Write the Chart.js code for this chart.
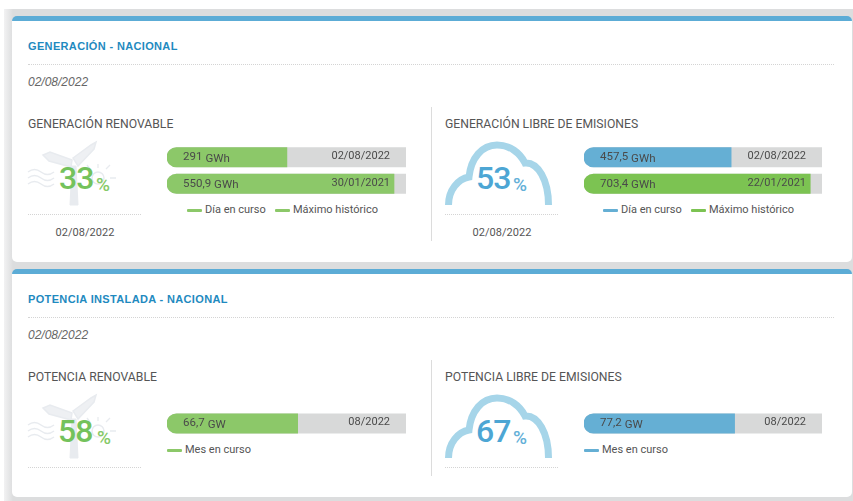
<!DOCTYPE html>
<html lang="es">
<head>
<meta charset="utf-8">
<title>Generación y potencia - Nacional</title>
<script src="https://cdn.jsdelivr.net/npm/chart.js@4"></script>
<style>
    html, body { margin: 0; padding: 0; background: #fff; }
    #page { position: relative; width: 853px; height: 501px; overflow: hidden; font-family: Roboto, sans-serif; filter: blur(0.45px); }
    #backdrop { position: absolute; left: 4px; top: 9px; width: 849px; height: 492px; background: linear-gradient(90deg, #f2f2f3 0, #dcddde 9px); }
    .card { position: absolute; left: 12px; width: 840px; background: #fff; border-top: 5px solid #5cacd6; border-radius: 5px; box-sizing: border-box; }
    .abs { position: absolute; white-space: nowrap; }
    .heading { font: bold 11px "Liberation Sans", sans-serif; color: #1f8abf; letter-spacing: 0.35px; }
    .today { font: italic 12px "Liberation Sans", sans-serif; color: #666; }
    .title { font-size: 12.2px; color: #555; }
    .dots { position: absolute; border-top: 1px dotted #d4d4d4; height: 0; }
    .divider { position: absolute; width: 1px; background: #dcdcdc; }
    .big { font-size: 32px; font-weight: 500; line-height: 32px; letter-spacing: -1px; }
    .pct { font-size: 19px; font-weight: 500; line-height: 20px; }
    .date { font-size: 11px; color: #555; letter-spacing: 0.05px; transform: translateX(-50%); }
    .legend { font-size: 11px; color: #555; }
    .legend i { position: absolute; width: 15px; height: 3px; border-radius: 1px; top: 6px; }
    canvas { position: absolute; }
    svg { position: absolute; left: 0; top: 0; }
</style>
</head>
<body>
<div id="page">
    <div id="backdrop"></div>
    <div class="card" style="top:16px;height:246px"></div>
    <div class="card" style="top:269px;height:228px"></div>

    <svg width="853" height="501" fill="none">
        <g id="mill" stroke="#e8ebef">
            <path d="M72 166 L70 205 H78 L76 166 Z" fill="#e8ebef" stroke-width="1"/>
            <path d="M73 158 L91 145 L96 142 L94 149 L78 166 Z" fill="#eef0f3" stroke-width="1.5"/>
            <path d="M72 160 L50 152 L43 155 L49 161 L71 167 Z" fill="#eef0f3" stroke-width="1.5"/>
            <path d="M28 172 q6.5 -5 13 0 t13 0 M28 178 q6.5 -5 13 0 t13 0 M28 184 q6.5 -5 13 0 t13 0" stroke-width="1.5"/>
            <circle cx="98" cy="178" r="6" stroke-width="1.5"/>
            <path d="M98 164 V168 M110 178 H116 M106 169 L110 165 M90 169 L87 165" stroke-width="1.3"/>
        </g>
        <use href="#mill" y="253"/>
        <path id="cloud" d="M448.5 205 C448.5 190 458 179 469 177 C471 158 482 145 497 145 C510 145 520 153 525 163 C538 162 548.5 180 548.5 205" stroke="#a6d5e9" stroke-width="7"/>
        <use href="#cloud" y="253"/>
    </svg>

    <div class="abs heading" style="left:28px;top:40px">GENERACIÓN - NACIONAL</div>
    <div class="dots" style="left:28px;top:64px;width:806px"></div>
    <div class="abs today" style="left:28px;top:75px">02/08/2022</div>
    <div class="divider" style="left:431px;top:107px;height:134px"></div>

    <div class="abs title" style="left:28px;top:117px">GENERACIÓN RENOVABLE</div>
    <div class="abs big" style="left:59px;top:162px;color:#74c25c">33</div>
    <div class="abs pct" style="left:96px;top:175px;color:#86c968">%</div>
    <div class="dots" style="left:28px;top:214px;width:113px"></div>
    <div class="abs date" style="left:85px;top:226px">02/08/2022</div>

    <div class="abs title" style="left:445px;top:117px">GENERACIÓN LIBRE DE EMISIONES</div>
    <div class="abs big" style="left:476px;top:162px;color:#4da6d4">53</div>
    <div class="abs pct" style="left:513px;top:175px;color:#64b0d8">%</div>
    <div class="dots" style="left:445px;top:214px;width:113px"></div>
    <div class="abs date" style="left:502px;top:226px">02/08/2022</div>

    <div class="abs heading" style="left:28px;top:293px">POTENCIA INSTALADA - NACIONAL</div>
    <div class="dots" style="left:28px;top:317px;width:806px"></div>
    <div class="abs today" style="left:28px;top:328px">02/08/2022</div>
    <div class="divider" style="left:431px;top:360px;height:116px"></div>

    <div class="abs title" style="left:28px;top:370px">POTENCIA RENOVABLE</div>
    <div class="abs big" style="left:58px;top:415px;color:#74c25c">58</div>
    <div class="abs pct" style="left:97px;top:428px;color:#86c968">%</div>
    <div class="dots" style="left:28px;top:467px;width:113px"></div>

    <div class="abs title" style="left:445px;top:370px">POTENCIA LIBRE DE EMISIONES</div>
    <div class="abs big" style="left:476px;top:415px;color:#4da6d4">67</div>
    <div class="abs pct" style="left:513px;top:428px;color:#64b0d8">%</div>
    <div class="dots" style="left:445px;top:467px;width:113px"></div>

    <canvas id="genRenovable" width="239" height="53" style="left:167px;top:144px"></canvas>
    <canvas id="genLibre" width="238" height="53" style="left:584px;top:144px"></canvas>
    <canvas id="potRenovable" width="239" height="27" style="left:167px;top:410px"></canvas>
    <canvas id="potLibre" width="238" height="27" style="left:584px;top:410px"></canvas>

    <div id="legends"></div>
</div>

<script>
// Values
const genLabels = ['Día en curso', 'Máximo histórico'];
const potLabels = ['Mes en curso'];

const genRenovableValues = [291, 550.9];
const genRenovableDates = ['02/08/2022', '30/01/2021'];
const genRenovableColors = ['#8cc869', '#8cc869'];

const genLibreValues = [457.5, 703.4];
const genLibreDates = ['02/08/2022', '22/01/2021'];
const genLibreColors = ['#65afd4', '#7cc352'];

const potRenovableValues = [66.7];
const potRenovableDates = ['08/2022'];
const potRenovableColors = ['#8cc869'];

const potLibreValues = [77.2];
const potLibreDates = ['08/2022'];
const potLibreColors = ['#65afd4'];

// Axis limits worked out from how far the bars fill the grey track
const GEN_RENOVABLE_MAX = 580;
const GEN_LIBRE_MAX = 740;
const POT_MAX = 122;

const TRACK_COLOR = '#d8d9d9';
const TEXT_COLOR = '#4a4a4a';

// Writes value + unit on the left of each bar and the date on the right
const barText = {
    id: 'barText',
    afterDatasetsDraw(chart, args, opts) {
        const ctx = chart.ctx;
        const bars = chart.getDatasetMeta(0).data;
        ctx.save();
        ctx.fillStyle = TEXT_COLOR;
        ctx.textBaseline = 'middle';
        bars.forEach((bar, i) => {
            const text = String(opts.values[i]).replace('.', ',');
            ctx.font = '11.5px Roboto, sans-serif';
            ctx.textAlign = 'left';
            const left = chart.scales.x.left + 16;
            ctx.fillText(text, left, bar.y);
            const textWidth = ctx.measureText(text).width;
            ctx.fillText(opts.unit, left + textWidth + 3, bar.y + 1.5);

            ctx.textAlign = 'right';
            ctx.font = '11px Roboto, sans-serif';
            ctx.fillText(opts.dates[i], chart.scales.x.right - 16, bar.y - 1);
        });
        ctx.restore();
    }
};

function makeBarChart(id, labels, values, dates, colors, unit, max) {
    const corners = { topLeft: 10, bottomLeft: 10, topRight: 0, bottomRight: 0 };
    new Chart(document.getElementById(id), {
        type: 'bar',
        data: {
            labels: labels,
            datasets: [
                { data: values, backgroundColor: colors, order: 1 },
                { data: labels.map(() => max), backgroundColor: TRACK_COLOR, order: 2 }
            ]
        },
        options: {
            indexAxis: 'y',
            responsive: false,
            animation: false,
            layout: { padding: 0 },
            datasets: { bar: { grouped: false, barThickness: 19.5, borderWidth: 0, borderSkipped: false, borderRadius: corners } },
            scales: {
                x: { display: false, min: 0, max: max },
                y: { display: false }
            },
            plugins: {
                legend: { display: false },
                tooltip: { enabled: false },
                barText: { values: values, dates: dates, unit: unit }
            }
        },
        plugins: [barText]
    });
}

makeBarChart('genRenovable', genLabels, genRenovableValues, genRenovableDates, genRenovableColors, 'GWh', GEN_RENOVABLE_MAX);
makeBarChart('genLibre', genLabels, genLibreValues, genLibreDates, genLibreColors, 'GWh', GEN_LIBRE_MAX);
makeBarChart('potRenovable', potLabels, potRenovableValues, potRenovableDates, potRenovableColors, 'GW', POT_MAX);
makeBarChart('potLibre', potLabels, potLibreValues, potLibreDates, potLibreColors, 'GW', POT_MAX);

// Legends are plain html so the short line marks sit tight to their text
function addLegend(x, y, label, color) {
    const el = document.createElement('div');
    el.className = 'abs legend';
    el.style.left = x + 'px';
    el.style.top = y + 'px';
    el.style.paddingLeft = '18px';
    el.innerHTML = '<i style="left:0;background:' + color + '"></i>' + label;
    document.getElementById('legends').appendChild(el);
}

addLegend(187, 203, genLabels[0], genRenovableColors[0]);
addLegend(275, 203, genLabels[1], genRenovableColors[1]);
addLegend(603, 203, genLabels[0], genLibreColors[0]);
addLegend(691, 203, genLabels[1], genLibreColors[1]);
addLegend(167, 443, potLabels[0], potRenovableColors[0]);
addLegend(584, 443, potLabels[0], potLibreColors[0]);
</script>
</body>
</html>
